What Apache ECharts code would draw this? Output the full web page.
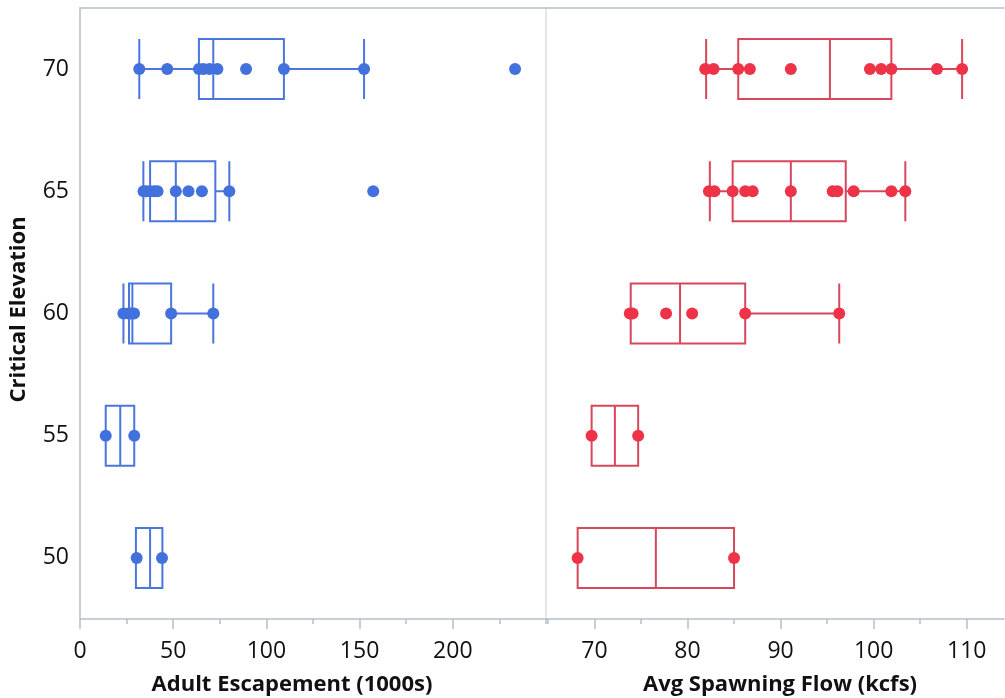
<!DOCTYPE html>
<html>
<head>
<meta charset="utf-8">
<script src="https://cdn.jsdelivr.net/npm/echarts@6/dist/echarts.min.js"></script>
<style>
  html, body { margin: 0; padding: 0; background: #fff; }
  #main { width: 1005px; height: 698px; }
</style>
</head>
<body>
<div id="main"></div>
<script>
// categories (bottom to top)
var elevations = ['50', '55', '60', '65', '70'];

// Adult Escapement (1000s): [min, Q1, median, Q3, max] per elevation
var escStats = [
  [30.0, 30.0, 37.6, 44.2, 44.2],
  [13.8, 13.8, 21.6, 29.1, 29.1],
  [23.3, 26.3, 28.1, 48.9, 71.5],
  [34.0, 37.6, 51.4, 72.6, 80.1],
  [31.8, 63.8, 71.5, 109.4, 152.4]
];
// individual observations
var escPoints = [
  [30.4, 44.0],
  [13.8, 29.1],
  [23.3, 26.0, 27.3, 29.0, 48.9, 71.5],
  [34.1, 35.5, 37.6, 39.8, 41.6, 51.4, 58.2, 65.4, 80.1, 157.3],
  [31.8, 46.8, 63.8, 66.2, 69.4, 73.7, 89.1, 109.4, 152.4, 233.4]
];

// Avg Spawning Flow (kcfs)
var flowStats = [
  [68.2, 68.2, 76.6, 85.0, 85.0],
  [69.7, 69.7, 72.2, 74.7, 74.7],
  [73.9, 73.9, 79.2, 86.2, 96.3],
  [82.4, 84.85, 91.1, 97.0, 103.4],
  [82.0, 85.45, 95.3, 101.9, 109.5]
];
var flowPoints = [
  [68.2, 85.0],
  [69.7, 74.7],
  [73.8, 74.1, 77.7, 80.5, 86.2, 96.3],
  [82.3, 82.9, 84.85, 86.2, 87.0, 91.1, 95.6, 96.1, 97.85, 101.9, 103.4],
  [81.9, 82.8, 85.45, 86.7, 91.1, 99.6, 100.8, 101.9, 106.8, 109.5]
];

// tick labels
var escTicks = [0, 50, 100, 150, 200];
var escMinorTicks = [25, 75, 125, 175, 225, 250];
var flowTicks = [70, 80, 90, 100, 110];
var flowMinorTicks = [65, 75, 85, 95, 105];

var blue = '#4270DD';
var blueLine = '#4A76DE';
var red = '#EE3248';
var redLine = '#D8475B';
var axisGrey = '#B6BEC7';
var font = '"Open Sans", "Noto Sans", sans-serif';

function toPoints(lists) {
  var out = [];
  lists.forEach(function (vals, i) {
    vals.forEach(function (v) { out.push([v, elevations[i]]); });
  });
  return out;
}

function mainAxis(grid, min, max, ticks, name, namePad) {
  return {
    gridIndex: grid, type: 'value', position: 'bottom', min: min, max: max,
    splitLine: { show: false },
    axisLine: { show: true, lineStyle: { color: axisGrey, width: 1.5 } },
    axisTick: { show: true, length: 10, customValues: ticks, lineStyle: { color: axisGrey, width: 1.5 } },
    axisLabel: { customValues: ticks, fontSize: 23, color: '#111', fontFamily: font, margin: 21 },
    name: name, nameLocation: 'middle', nameGap: 55,
    nameTextStyle: { fontSize: 22, fontWeight: 'bold', color: '#111', fontFamily: font, padding: namePad }
  };
}
function minorAxis(grid, min, max, ticks) {
  return {
    gridIndex: grid, type: 'value', position: 'bottom', min: min, max: max,
    splitLine: { show: false },
    axisLine: { show: false },
    axisTick: { show: true, length: 5, customValues: ticks, lineStyle: { color: axisGrey, width: 1.5 } },
    axisLabel: { show: false }
  };
}
function topAxis(grid, min, max) {
  return {
    gridIndex: grid, type: 'value', position: 'top', min: min, max: max,
    splitLine: { show: false },
    axisLine: { show: true, lineStyle: { color: axisGrey, width: 1.5 } },
    axisTick: { show: false }, axisLabel: { show: false }
  };
}

var myChart = echarts.init(document.getElementById('main'));
var option = {
  animation: false,
  backgroundColor: '#fff',
  grid: [
    { left: 80, top: 8, width: 466, height: 611, outerBoundsMode: 'none' },
    { left: 546, top: 8, width: 458, height: 611, outerBoundsMode: 'none' }
  ],
  xAxis: [
    mainAxis(0, 0, 250, escTicks, 'Adult Escapement (1000s)', [0, 42, 0, 0]),
    mainAxis(1, 64.8, 114, flowTicks, 'Avg Spawning Flow (kcfs)', [0, 0, 0, 10]),
    minorAxis(0, 0, 250, escMinorTicks),
    minorAxis(1, 64.8, 114, flowMinorTicks),
    topAxis(0, 0, 250),
    topAxis(1, 64.8, 114)
  ],
  yAxis: [
    {
      gridIndex: 0, type: 'category', data: elevations,
      axisLine: { show: true, lineStyle: { color: axisGrey, width: 1.5 } },
      axisTick: { show: false },
      axisLabel: { fontSize: 23, color: '#111', fontFamily: font, margin: 11 },
      name: 'Critical Elevation', nameLocation: 'middle', nameGap: 50,
      nameTextStyle: { fontSize: 22, fontWeight: 'bold', color: '#111', fontFamily: font, padding: [0, 0, 0, 8] }
    },
    {
      gridIndex: 1, type: 'category', data: elevations,
      axisLine: { show: true, lineStyle: { color: '#DCDCDC', width: 1.5 } },
      axisTick: { show: false },
      axisLabel: { show: false }
    }
  ],
  series: [
    {
      type: 'boxplot', xAxisIndex: 0, yAxisIndex: 0, data: escStats,
      boxWidth: [60, 60],
      itemStyle: { color: 'transparent', borderColor: blueLine, borderWidth: 2 }
    },
    {
      type: 'boxplot', xAxisIndex: 1, yAxisIndex: 1, data: flowStats,
      boxWidth: [60, 60],
      itemStyle: { color: 'transparent', borderColor: redLine, borderWidth: 2 }
    },
    {
      type: 'scatter', xAxisIndex: 0, yAxisIndex: 0, data: toPoints(escPoints),
      symbolSize: 12, itemStyle: { color: blue, opacity: 1 }, z: 5
    },
    {
      type: 'scatter', xAxisIndex: 1, yAxisIndex: 1, data: toPoints(flowPoints),
      symbolSize: 12, itemStyle: { color: red, opacity: 1 }, z: 5
    }
  ]
};
myChart.setOption(option);
</script>
</body>
</html>
